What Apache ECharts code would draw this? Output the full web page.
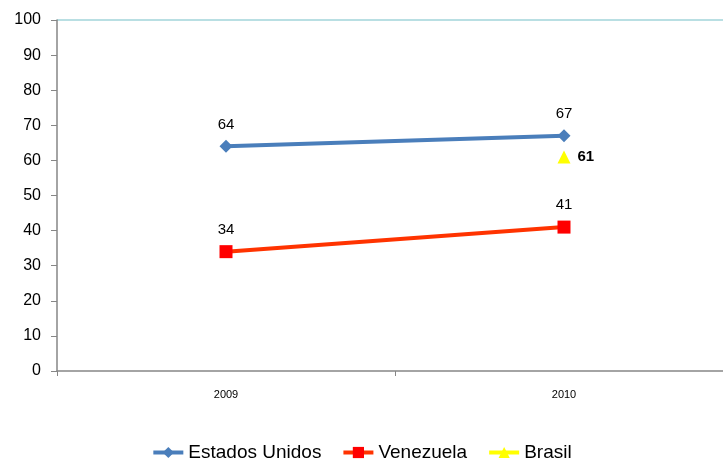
<!DOCTYPE html>
<html><head><meta charset="utf-8">
<script src="https://cdn.jsdelivr.net/npm/echarts@6/dist/echarts.min.js"></script>
<style>html,body{margin:0;padding:0;background:#fff}#c{width:723px;height:460px}</style>
</head><body><div id="c"></div>
<script>
const categories = ['2009', '2010'];
const estadosUnidos = [64, 67];
const venezuela = [34, 41];
const brasil = [null, 61];
const yTicks = [0,10,20,30,40,50,60,70,80,90,100];

const chart = echarts.init(document.getElementById('c'));
const F = '"Liberation Sans", "DejaVu Sans", sans-serif';
const lbl = {show:true, position:'top', distance:8, color:'#000', fontSize:15, fontFamily:F};
const clear = 'rgba(0,0,0,0)';
chart.setOption({
  animation:false,
  grid:{left:57, top:20, width:676, height:351, containLabel:false, outerBoundsMode:'none'},
  xAxis:{type:'category', data:categories, boundaryGap:true,
    axisLine:{lineStyle:{color:'#868686', width:1.5}},
    axisTick:{show:true, length:5, lineStyle:{color:'#868686'}},
    axisLabel:{color:'#000', fontSize:11, fontFamily:F, margin:18}},
  yAxis:{type:'value', min:0, max:100, interval:10,
    axisLine:{show:true, lineStyle:{color:'#868686', width:1.5}},
    axisTick:{show:true, length:6, lineStyle:{color:'#868686'}},
    axisLabel:{color:'#000', fontSize:16, fontFamily:F, margin:16,
      formatter:v=>yTicks.includes(v)?String(v):''},
    splitLine:{show:true, lineStyle:{width:2, color:[clear,clear,clear,clear,clear,clear,clear,clear,clear,clear,'#b9dfe3']}}},
  legend:{bottom:-7, left:'center', itemWidth:30, itemHeight:14, itemGap:20,
    lineStyle:{width:4},
    textStyle:{fontSize:19, fontFamily:F, color:'#000'},
    data:['Estados Unidos','Venezuela','Brasil']},
  series:[
    {name:'Estados Unidos', type:'line', data:estadosUnidos, symbol:'diamond', symbolSize:13,
      lineStyle:{color:'#4a7ebb', width:4}, itemStyle:{color:'#4a7ebb'}, label:lbl},
    {name:'Venezuela', type:'line', data:venezuela, symbol:'rect', symbolSize:13,
      lineStyle:{color:'#ff3300', width:4}, itemStyle:{color:'#ff0000'}, label:lbl},
    {name:'Brasil', type:'line', data:brasil, symbol:'triangle', symbolSize:13,
      lineStyle:{color:'#ffff00', width:4}, itemStyle:{color:'#ffff00'},
      label:{show:true, position:'right', distance:7, color:'#000', fontSize:15, fontWeight:'bold', fontFamily:F}}
  ]
});
</script></body></html>
